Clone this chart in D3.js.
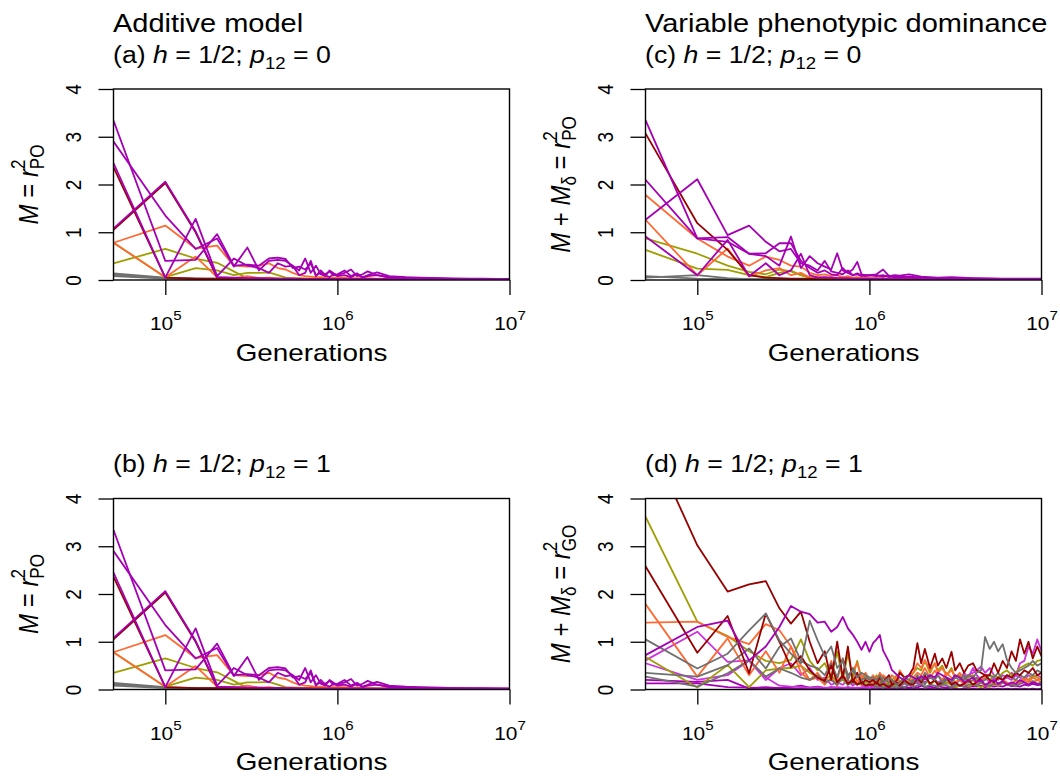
<!DOCTYPE html>
<html>
<head>
<meta charset="utf-8">
<script src="https://cdn.jsdelivr.net/npm/d3@7"></script>
<style>
body { margin: 0; background: #fff; }
svg text { font-family: "Liberation Sans", Arial, Helvetica, sans-serif; fill: #000; }
</style>
</head>
<body>
<script>
var w = 1060;
var h = 776;
var stretch = 1.16; // text in the reference is drawn wider than tall

// generations (x values)
var gensEarly = [5e4, 1e5, 1.5e5, 2e5, 2.5e5, 3e5, 3.5e5, 4e5, 4.5e5, 5e5,
    5.5e5, 6e5, 6.5e5, 7e5, 7.5e5, 8e5, 8.5e5, 9e5, 9.5e5, 1e6];
var gensTailAC = [1.1e6, 1.2e6, 1.3e6, 1.4e6, 1.5e6, 1.7e6, 2e6, 2.5e6, 3e6, 4e6, 5e6, 7e6, 1e7];
var gensTailD = [1.05e6, 1.1e6, 1.15e6, 1.2e6, 1.3e6, 1.35e6, 1.45e6, 1.5e6, 1.6e6, 1.7e6,
    1.8e6, 1.9e6, 2e6, 2.1e6, 2.25e6, 2.4e6, 2.5e6, 2.65e6, 2.8e6, 3e6,
    3.15e6, 3.35e6, 3.55e6, 3.75e6, 4e6, 4.2e6, 4.45e6, 4.7e6, 5e6, 5.3e6,
    5.6e6, 5.95e6, 6.3e6, 6.7e6, 7.1e6, 7.5e6, 7.95e6, 8.4e6, 8.9e6, 9.45e6, 1e7];

var xTicks = [1e5, 1e6, 1e7];
var xTickExp = ["5", "6", "7"];
var yTicks = [0, 1, 2, 3, 4];

// (a) additive, p12 = 0
var groupsA = ["gray", "gray", "gray", "olive", "olive", "orange", "orange",
    "darkred", "darkred", "purple", "purple", "purple", "purple"];
var valuesA = [
    [0.14,0.05,0.03,0.03,0.02,0.02,0.02,0.02,0.02,0.02,0.02,0.02,0.01,0.01,0.01,0.01,0.01,0.01,0.01,0.01, 0.01,0.01,0.01,0.01,0.01,0.01,0.01,0.01,0.01,0.01,0.01,0.01,0.01],
    [0.11,0.04,0.03,0.02,0.02,0.02,0.02,0.02,0.01,0.01,0.01,0.01,0.01,0.01,0.01,0.01,0.01,0.01,0.01,0.01, 0.01,0.01,0.01,0.01,0.01,0.01,0.01,0.01,0.01,0.01,0.01,0.01,0.01],
    [0.08,0.03,0.02,0.02,0.01,0.01,0.01,0.01,0.01,0.01,0.01,0.01,0.01,0.01,0.01,0.01,0.01,0.01,0.01,0.01, 0.01,0.01,0.01,0.01,0.01,0.01,0.01,0.01,0.01,0.01,0.01,0.01,0.01],
    [0.35,0.65,0.45,0.36,0.18,0.03,0.03,0.03,0.02,0.02,0.02,0.02,0.02,0.02,0.02,0.02,0.02,0.02,0.02,0.02, 0.02,0.02,0.02,0.01,0.01,0.01,0.01,0.01,0.01,0.01,0.01,0.01,0.01],
    [0.78,0.06,0.25,0.20,0.10,0.15,0.15,0.16,0.10,0.05,0.04,0.04,0.03,0.03,0.03,0.03,0.03,0.02,0.02,0.02, 0.02,0.02,0.02,0.02,0.02,0.02,0.01,0.01,0.01,0.01,0.01,0.01,0.01],
    [0.78,0.06,0.49,0.06,0.04,0.08,0.04,0.05,0.03,0.03,0.04,0.03,0.03,0.03,0.03,0.03,0.02,0.02,0.02,0.02, 0.02,0.02,0.02,0.02,0.02,0.02,0.02,0.01,0.01,0.01,0.01,0.01,0.01],
    [0.78,1.14,0.66,0.72,0.30,0.28,0.30,0.35,0.25,0.22,0.15,0.10,0.08,0.07,0.06,0.06,0.05,0.05,0.05,0.05, 0.05,0.04,0.04,0.04,0.04,0.03,0.03,0.03,0.02,0.02,0.02,0.02,0.02],
    [2.36,0.05,0.03,0.03,0.02,0.02,0.02,0.02,0.02,0.02,0.02,0.02,0.02,0.02,0.01,0.01,0.01,0.01,0.01,0.01, 0.01,0.01,0.01,0.01,0.01,0.01,0.01,0.01,0.01,0.01,0.01,0.01,0.01],
    [1.05,2.03,1.00,0.05,0.04,0.03,0.03,0.03,0.03,0.02,0.02,0.02,0.02,0.02,0.02,0.02,0.02,0.02,0.02,0.02, 0.02,0.02,0.02,0.02,0.01,0.01,0.01,0.01,0.01,0.01,0.01,0.01,0.01],
    [1.08,2.06,1.02,0.06,0.05,0.04,0.04,0.03,0.03,0.03,0.03,0.02,0.02,0.02,0.02,0.02,0.02,0.02,0.02,0.02, 0.02,0.02,0.02,0.02,0.02,0.02,0.02,0.01,0.01,0.01,0.01,0.01,0.01],
    [2.45,0.05,1.28,0.08,0.45,0.30,0.25,0.15,0.35,0.28,0.30,0.10,0.15,0.40,0.08,0.20,0.10,0.06,0.12,0.08, 0.10,0.06,0.12,0.05,0.08,0.10,0.05,0.04,0.03,0.03,0.02,0.02,0.02],
    [2.90,1.35,0.65,0.87,0.28,0.68,0.20,0.40,0.42,0.40,0.30,0.20,0.45,0.15,0.30,0.12,0.08,0.20,0.14,0.10, 0.15,0.22,0.08,0.12,0.18,0.10,0.06,0.05,0.04,0.03,0.03,0.02,0.02],
    [3.34,0.40,0.42,0.96,0.30,0.32,0.30,0.45,0.47,0.44,0.25,0.28,0.22,0.35,0.10,0.15,0.12,0.18,0.10,0.12, 0.20,0.08,0.14,0.06,0.10,0.16,0.08,0.06,0.05,0.04,0.03,0.03,0.02]
];

// (b) additive, p12 = 1 (same runs as (a) in the reference)
var groupsB = groupsA;
var valuesB = valuesA;

// (c) variable dominance, p12 = 0
var groupsC = ["gray", "gray", "olive", "olive", "orange", "orange", "darkred",
    "purple", "purple", "purple", "purple"];
var valuesC = [
    [0.05,0.10,0.04,0.02,0.02,0.02,0.01,0.01,0.01,0.01,0.01,0.01,0.01,0.01,0.01,0.01,0.01,0.01,0.01,0.01, 0.01,0.01,0.01,0.01,0.01,0.01,0.01,0.01,0.01,0.01,0.01,0.01,0.01],
    [0.08,0.03,0.02,0.02,0.02,0.01,0.01,0.01,0.01,0.01,0.01,0.01,0.01,0.01,0.01,0.01,0.01,0.01,0.01,0.01, 0.01,0.01,0.01,0.01,0.01,0.01,0.01,0.01,0.01,0.01,0.01,0.01,0.01],
    [0.87,0.55,0.30,0.17,0.12,0.22,0.18,0.10,0.06,0.05,0.04,0.04,0.03,0.03,0.03,0.03,0.02,0.02,0.02,0.02, 0.02,0.02,0.02,0.02,0.02,0.01,0.01,0.01,0.01,0.01,0.01,0.01,0.01],
    [0.63,0.24,0.21,0.10,0.06,0.15,0.20,0.10,0.05,0.04,0.04,0.03,0.03,0.03,0.03,0.02,0.02,0.02,0.02,0.02, 0.02,0.02,0.02,0.02,0.01,0.01,0.01,0.01,0.01,0.01,0.01,0.01,0.01],
    [1.78,0.87,0.49,0.30,0.49,0.42,0.30,0.28,0.15,0.10,0.12,0.08,0.10,0.06,0.08,0.05,0.06,0.05,0.05,0.04, 0.04,0.04,0.03,0.03,0.03,0.03,0.03,0.02,0.02,0.02,0.02,0.02,0.02],
    [1.26,0.10,0.66,0.07,0.20,0.25,0.10,0.15,0.05,0.06,0.05,0.04,0.05,0.04,0.04,0.03,0.03,0.03,0.03,0.03, 0.03,0.02,0.02,0.02,0.02,0.02,0.02,0.02,0.01,0.01,0.01,0.01,0.01],
    [3.07,1.19,0.63,0.10,0.05,0.04,0.03,0.03,0.03,0.02,0.02,0.02,0.02,0.02,0.02,0.02,0.02,0.02,0.02,0.02, 0.02,0.02,0.01,0.01,0.01,0.01,0.01,0.01,0.01,0.01,0.01,0.01,0.01],
    [0.91,0.10,0.84,0.08,0.35,0.10,0.20,0.55,0.10,0.05,0.06,0.05,0.04,0.04,0.04,0.03,0.03,0.03,0.03,0.03, 0.03,0.03,0.02,0.02,0.02,0.02,0.02,0.02,0.02,0.01,0.01,0.01,0.01],
    [1.26,2.11,0.94,1.14,0.80,0.60,0.65,0.35,0.30,0.20,0.40,0.18,0.15,0.12,0.20,0.10,0.12,0.08,0.10,0.09, 0.10,0.07,0.09,0.05,0.08,0.06,0.05,0.04,0.03,0.03,0.03,0.02,0.02],
    [2.10,0.87,0.90,0.55,0.56,0.77,0.77,0.40,0.25,0.15,0.20,0.12,0.10,0.25,0.15,0.10,0.14,0.10,0.08,0.10, 0.08,0.10,0.06,0.08,0.05,0.07,0.05,0.04,0.04,0.03,0.03,0.02,0.02],
    [3.35,0.87,0.80,0.55,0.50,0.30,0.91,0.25,0.50,0.35,0.28,0.22,0.56,0.20,0.15,0.22,0.38,0.12,0.10,0.10, 0.12,0.22,0.08,0.10,0.09,0.12,0.07,0.05,0.06,0.04,0.03,0.03,0.03]
];

// (d) variable dominance, p12 = 1
var groupsD = ["purple", "purple", "magenta", "magenta", "olive", "olive", "orange", "orange",
    "gray", "gray", "darkred", "darkred", "gray", "purple"];
var valuesD = [
    [0.13,0.13,0.05,0.04,0.03,0.03,0.02,0.02,0.02,0.02,0.02,0.02,0.02,0.02,0.01,0.01,0.01,0.01,0.01,0.01,
     0.01,0.02,0.01,0.02,0.01,0.02,0.01,0.02,0.01,0.02,0.02,0.01,0.02,0.01,0.02,0.01,0.02,0.01,0.02,0.01,0.02,0.01,0.02,0.01,0.02,0.01,0.02,0.01,0.02,0.01,0.02,0.01,0.02,0.01,0.02,0.01,0.02,0.01,0.02,0.01,0.02],
    [0.20,0.16,0.20,0.02,0.05,0.03,0.05,0.08,0.04,0.06,0.03,0.05,0.04,0.03,0.05,0.03,0.04,0.03,0.02,0.03,
     0.03,0.05,0.02,0.04,0.03,0.06,0.04,0.03,0.05,0.04,0.06,0.04,0.08,0.05,0.06,0.04,0.07,0.05,0.04,0.06,0.05,0.08,0.06,0.05,0.07,0.06,0.08,0.05,0.07,0.06,0.08,0.06,0.10,0.07,0.08,0.06,0.10,0.08,0.12,0.09,0.10],
    [0.55,0.20,0.30,0.60,0.25,0.08,0.06,0.05,0.04,0.05,0.04,0.03,0.05,0.04,0.03,0.04,0.03,0.05,0.04,0.03,
     0.05,0.04,0.06,0.05,0.08,0.06,0.10,0.08,0.12,0.10,0.15,0.12,0.20,0.15,0.25,0.20,0.15,0.20,0.12,0.15,0.10,0.20,0.25,0.30,0.35,0.40,0.48,0.35,0.45,0.30,0.25,0.20,0.25,0.20,0.30,0.25,0.20,0.30,0.25,0.30,0.25],
    [0.61,1.21,0.58,0.61,0.20,0.45,0.55,0.30,0.45,0.20,0.25,0.10,0.15,0.10,0.20,0.08,0.15,0.10,0.05,0.08,
     0.05,0.10,0.08,0.15,0.10,0.05,0.12,0.08,0.15,0.10,0.20,0.15,0.10,0.25,0.12,0.18,0.10,0.15,0.25,0.10,0.15,0.20,0.35,0.25,0.45,0.30,0.20,0.25,0.15,0.25,0.20,0.30,0.25,0.35,0.30,0.55,0.60,0.90,0.75,1.05,0.80],
    [0.68,0.04,0.51,0.05,0.40,0.44,0.45,0.50,0.35,0.25,0.20,0.30,0.15,0.20,0.10,0.25,0.12,0.10,0.15,0.10,
     0.10,0.05,0.15,0.08,0.12,0.05,0.10,0.06,0.15,0.10,0.12,0.20,0.15,0.25,0.10,0.18,0.12,0.08,0.15,0.10,0.05,0.08,0.12,0.06,0.10,0.08,0.05,0.10,0.06,0.12,0.08,0.15,0.10,0.12,0.20,0.15,0.25,0.20,0.30,0.25,0.20],
    [3.62,1.42,1.12,0.80,0.60,0.55,0.62,1.05,0.60,0.40,0.55,0.25,0.80,0.20,0.75,0.25,0.60,0.20,0.30,0.25,
     0.20,0.30,0.15,0.25,0.10,0.20,0.30,0.15,0.25,0.20,0.35,0.45,0.40,0.60,0.35,0.55,0.40,0.50,0.30,0.45,0.25,0.30,0.20,0.25,0.30,0.20,0.15,0.25,0.20,0.30,0.25,0.35,0.40,0.30,0.35,0.45,0.50,0.55,0.50,0.60,0.62],
    [1.40,1.42,1.10,0.95,1.37,1.24,0.90,0.35,0.20,0.25,0.10,0.25,0.08,0.30,0.20,0.45,0.15,0.30,0.20,0.15,
     0.15,0.25,0.10,0.30,0.20,0.15,0.25,0.10,0.20,0.15,0.25,0.35,0.30,0.45,0.25,0.40,0.30,0.20,0.35,0.25,0.15,0.20,0.10,0.15,0.20,0.10,0.15,0.08,0.12,0.10,0.08,0.15,0.10,0.12,0.08,0.15,0.20,0.15,0.25,0.20,0.25],
    [1.79,0.27,1.07,0.30,0.80,0.35,0.90,0.50,0.20,0.35,0.15,0.60,0.20,0.65,0.30,0.40,0.55,0.25,0.35,0.20,
     0.30,0.20,0.35,0.25,0.15,0.30,0.20,0.40,0.25,0.30,0.35,0.55,0.45,0.62,0.40,0.55,0.35,0.45,0.30,0.40,0.25,0.35,0.20,0.30,0.25,0.20,0.15,0.25,0.20,0.15,0.25,0.20,0.15,0.10,0.20,0.15,0.25,0.20,0.15,0.20,0.15],
    [0.27,0.06,0.34,0.61,0.27,0.44,0.35,0.25,0.20,0.30,0.15,0.20,0.10,0.25,0.10,0.15,0.10,0.20,0.08,0.12,
     0.10,0.05,0.08,0.03,0.10,0.06,0.04,0.08,0.05,0.10,0.06,0.08,0.12,0.05,0.10,0.08,0.05,0.12,0.08,0.05,0.10,0.08,0.06,0.10,0.12,0.08,0.15,0.10,0.08,0.12,0.10,0.15,0.12,0.10,0.08,0.12,0.15,0.10,0.18,0.12,0.15],
    [0.35,0.27,0.51,0.86,0.44,0.89,1.07,0.60,0.50,0.45,0.30,0.55,0.25,0.65,0.20,0.45,0.30,0.20,0.25,0.20,
     0.20,0.15,0.10,0.25,0.15,0.20,0.10,0.05,0.15,0.10,0.20,0.15,0.25,0.10,0.30,0.20,0.15,0.10,0.20,0.15,0.25,0.20,0.30,0.15,0.20,0.25,0.15,0.20,0.30,0.25,0.35,0.20,0.30,0.25,0.20,0.30,0.25,0.35,0.30,0.40,0.35],
    [2.58,0.77,1.54,0.34,1.59,1.00,0.47,0.70,0.40,0.25,0.18,0.50,0.15,0.30,0.12,0.20,0.10,0.15,0.08,0.10,
     0.10,0.15,0.08,0.12,0.05,0.10,0.15,0.08,0.20,0.12,0.10,0.25,0.15,0.30,0.12,0.20,0.10,0.15,0.25,0.10,0.15,0.08,0.12,0.20,0.10,0.15,0.25,0.30,0.20,0.15,0.25,0.20,0.30,0.25,0.35,0.30,0.40,0.35,0.45,0.30,0.35],
    [5.40,3.02,2.05,2.20,2.27,1.70,1.38,1.63,1.00,0.55,0.80,0.20,1.00,0.25,0.90,0.15,0.35,0.12,0.20,0.15,
     0.20,0.12,0.25,0.15,0.30,0.10,0.20,0.35,0.25,0.30,0.45,0.97,0.55,0.85,0.45,0.75,0.50,0.65,0.45,0.79,0.40,0.55,0.35,0.50,0.55,0.40,0.35,0.30,0.30,0.55,0.35,0.60,0.45,0.80,0.60,1.05,0.75,1.00,0.65,0.90,0.70],
    [1.05,0.44,0.75,1.24,1.59,1.03,0.75,0.55,1.44,1.03,0.70,0.90,0.45,0.60,0.30,0.40,0.25,0.35,0.30,0.25,
     0.25,0.20,0.30,0.15,0.25,0.20,0.10,0.15,0.25,0.20,0.15,0.30,0.20,0.35,0.25,0.20,0.30,0.15,0.25,0.20,0.30,0.25,0.20,0.30,0.25,0.35,0.40,1.10,0.85,1.00,0.80,0.95,0.62,0.45,0.35,0.40,0.45,0.50,0.60,0.50,0.55],
    [0.72,1.31,1.44,0.61,0.90,1.31,1.75,1.63,1.58,1.40,1.42,1.21,1.31,1.52,1.28,1.15,1.00,0.83,1.00,0.79,
     0.97,1.05,1.14,0.82,0.58,0.41,0.30,0.25,0.20,0.30,0.25,0.20,0.28,0.22,0.30,0.25,0.35,0.30,0.25,0.20,0.30,0.25,0.15,0.20,0.25,0.15,0.20,0.10,0.15,0.20,0.12,0.18,0.10,0.15,0.12,0.20,0.15,0.10,0.15,0.12,0.10]
];

var colour = {
    gray: "#707070", olive: "#9e9e00", orange: "#ff6a33",
    darkred: "#990000", purple: "#a500b5", magenta: "#cc33dd"
};

var pw = 396;
var ph = 191;

var panels = [
    {id: "a", x0: 113.5, y0: 89, gens: gensEarly.concat(gensTailAC), groups: groupsA, values: valuesA, p12: "0", dom: false, sub: "PO"},
    {id: "b", x0: 113.5, y0: 498.5, gens: gensEarly.concat(gensTailAC), groups: groupsB, values: valuesB, p12: "1", dom: false, sub: "PO"},
    {id: "c", x0: 645.5, y0: 89, gens: gensEarly.concat(gensTailAC), groups: groupsC, values: valuesC, p12: "0", dom: true, sub: "PO"},
    {id: "d", x0: 645.5, y0: 498.5, gens: gensEarly.concat(gensTailD), groups: groupsD, values: valuesD, p12: "1", dom: true, sub: "GO"}
];

var svg = d3.select("body")
    .append("svg")
    .attr("width", w)
    .attr("height", h);

// text made of runs (italic, sub/superscripts)
function addRuns(t, runs) {
    runs.forEach(function(r) {
        var s = t.append("tspan").text(r.t);
        if (r.i) s.attr("font-style", "italic");
        if (r.size) s.attr("font-size", r.size);
        if (r.dx) s.attr("dx", r.dx);
        if (r.dy) s.attr("dy", r.dy);
    });
}

function place(x, y, rot) {
    return "translate(" + x + "," + y + ") scale(" + stretch + ",1)" + (rot ? " rotate(-90)" : "");
}

//column titles
svg.append("text")
    .attr("transform", place(113, 32))
    .attr("font-size", 25)
    .text("Additive model");
svg.append("text")
    .attr("transform", place(645, 32))
    .attr("font-size", 25)
    .text("Variable phenotypic dominance");

panels.forEach(function(p) {
    var g = svg.append("g");

    var xScale = d3.scaleLog()
        .domain([5e4, 1e7])
        .range([p.x0, p.x0 + pw]);
    var yScale = d3.scaleLinear()
        .domain([0, 4])
        .range([p.y0 + ph, p.y0]);

    svg.append("clipPath")
        .attr("id", "clip-" + p.id)
        .append("rect")
        .attr("x", p.x0)
        .attr("y", p.y0)
        .attr("width", pw)
        .attr("height", ph);

//lines
    var line = d3.line()
        .x(function(d, i) { return xScale(p.gens[i]); })
        .y(function(d) { return yScale(d); });

    g.append("g")
        .attr("clip-path", "url(#clip-" + p.id + ")")
        .selectAll("path")
        .data(p.values)
        .enter()
        .append("path")
        .attr("d", line)
        .attr("fill", "none")
        .attr("stroke", function(d, i) { return colour[p.groups[i]]; })
        .attr("stroke-width", 1.8)
        .attr("stroke-linejoin", "round");

//axes
    var xAxis = d3.axisBottom(xScale)
        .tickValues(xTicks)
        .tickSize(15)
        .tickSizeOuter(0)
        .tickFormat(function() { return ""; });
    var yAxis = d3.axisLeft(yScale)
        .tickValues(yTicks)
        .tickSize(15)
        .tickSizeOuter(0)
        .tickFormat(d3.format("d"));

    var xg = g.append("g")
        .attr("transform", "translate(0," + (p.y0 + ph) + ")")
        .call(xAxis);
    xg.select(".domain").remove();
    xg.selectAll("line").attr("stroke-width", 1.3);
    xg.selectAll(".tick text")
        .attr("y", null)
        .attr("dy", null)
        .attr("fill", "#000")
        .attr("font-family", null)
        .attr("font-size", 18)
        .attr("text-anchor", "middle")
        .attr("transform", place(0, 50))
        .each(function(d, i) {
            addRuns(d3.select(this), [{t: "10"}, {t: xTickExp[i], size: 13, dy: -10}]);
        });

    var yg = g.append("g")
        .attr("transform", "translate(" + p.x0 + ",0)")
        .call(yAxis);
    yg.select(".domain").remove();
    yg.selectAll("line").attr("stroke-width", 1.3);
    yg.selectAll(".tick text")
        .attr("x", null)
        .attr("dy", null)
        .attr("fill", "#000")
        .attr("font-family", null)
        .attr("font-size", 19)
        .attr("text-anchor", "middle")
        .attr("transform", place(-33, 0, true));

//box
    g.append("rect")
        .attr("x", p.x0)
        .attr("y", p.y0)
        .attr("width", pw)
        .attr("height", ph)
        .attr("fill", "none")
        .attr("stroke", "#000")
        .attr("stroke-width", 1.4);

//panel title
    var t = g.append("text")
        .attr("transform", place(p.x0 - 0.5, p.y0 - 26.5))
        .attr("font-size", 23);
    addRuns(t, [{t: "(" + p.id + ") "}, {t: "h", i: 1}, {t: " = 1/2; "}, {t: "p", i: 1},
        {t: "12", size: 16, dy: 6}, {t: " = " + p.p12, dy: -6}]);

//x axis title
    g.append("text")
        .attr("transform", place(p.x0 + pw / 2, p.y0 + ph + 80.5))
        .attr("font-size", 24)
        .attr("text-anchor", "middle")
        .text("Generations");

//y axis title
    var yl = g.append("text")
        .attr("transform", place(p.x0 - 76, p.y0 + ph / 2, true))
        .attr("font-size", 24)
        .attr("text-anchor", "middle");
    var runs = [{t: "M", i: 1}];
    if (p.dom) {
        runs.push({t: " + "}, {t: "M", i: 1}, {t: "\u03b4", size: 17, dy: 6}, {t: " = ", dy: -6});
    } else {
        runs.push({t: " = "});
    }
    runs.push({t: "r", i: 1}, {t: "2", size: 17, dy: -11}, {t: p.sub, size: 17, dx: -9.5, dy: 17});
    addRuns(yl, runs);
});
</script>
</body>
</html>
